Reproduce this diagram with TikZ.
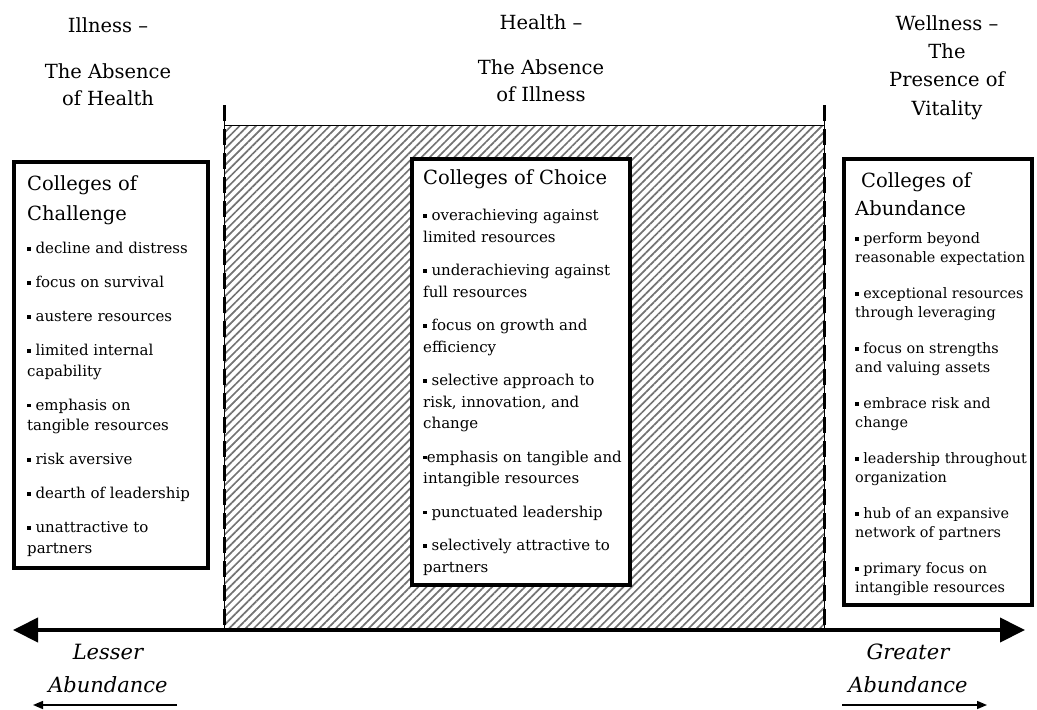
\documentclass[tikz,border=0pt]{standalone}
\usepackage{fontspec}
\setmainfont{DejaVu Serif}
\usepackage{tikz}
\usetikzlibrary{positioning}
\usetikzlibrary{arrows.meta,patterns.meta}
\tikzstyle{college} = [rectangle, draw, line width=3.5pt, fill=white, inner sep=0pt, anchor=north west]
\tikzstyle{heading} = [align=center, inner sep=0pt, font=\fontsize{19.5}{27}\selectfont]
\tikzstyle{ctitle} = [align=left, inner sep=0pt, anchor=north west, font=\fontsize{19.5}{30}\selectfont]
\tikzstyle{clist} = [align=left, inner sep=0pt, anchor=north west]
\tikzstyle{endlabel} = [align=center, inner sep=0pt, font=\fontsize{21}{33}\selectfont\itshape]
\tikzstyle{divider} = [line width=0.8pt]
\tikzstyle{dashes} = [line width=3pt, dash pattern=on 16pt off 8pt]
\tikzstyle{scale arrow} = [line width=4pt, {Triangle[length=25pt,width=24pt]}-{Triangle[length=25pt,width=24pt]}]
\tikzstyle{small arrow} = [line width=1.5pt, -{Triangle[length=10pt,width=8pt]}]
\newcommand{\bul}{\rule[0.2em]{3.6pt}{3.6pt}}

\begin{document}
\begin{tikzpicture}[x=1pt,y=-1pt]
\useasboundingbox (0,0) rectangle (1037,710);

%% hatched band
\fill [pattern={Lines[angle=45,distance=5.8pt,line width=1.7pt]}, pattern color=black!55] (224,125) rectangle (824,630);
\draw [divider] (224,125) -- (824,125);

\coordinate (topL) at (224,105);
\coordinate (botL) at (224,630);
\coordinate (topR) at (824,105);
\coordinate (botR) at (824,630);
\draw [divider] (topL) -- (botL);
\draw [divider] (topR) -- (botR);
\draw [dashes] (topL) -- (botL);
\draw [dashes] (topR) -- (botR);

%% scale
\coordinate (axL) at (13,630);
\coordinate (axR) at (1025,630);
\draw [scale arrow] (axL) -- (axR);

%% headings
\node [heading] at (108,25) (illness) {Illness –};
\node [heading] at (108,84.5) (illdef) {The Absence\\of Health};
\node [heading] at (541,22) (health) {Health –};
\node [heading] at (541,81) (healthdef) {The Absence\\of Illness};
\node [heading, font=\fontsize{19.5}{28.3}\selectfont] at (947,67.5) (wellness) {Wellness –\\The\\Presence of\\Vitality};

%% boxes
\node [college, minimum width=194pt, minimum height=406pt] at (12,160) (challenge) {};
\node [college, minimum width=218pt, minimum height=426pt] at (410,157) (choice) {};
\node [college, minimum width=188pt, minimum height=446pt] at (842,157) (abundance) {};

\node [ctitle] at (27,175) (chaltitle) {Colleges of\\Challenge};
\node [clist, font=\fontsize{15}{20.5}\selectfont] at (27,242) (challist) {%
\bul{} decline and distress\\[13.5pt]
\bul{} focus on survival\\[13.5pt]
\bul{} austere resources\\[13.5pt]
\bul{} limited internal\\capability\\[13.5pt]
\bul{} emphasis on\\tangible resources\\[13.5pt]
\bul{} risk aversive\\[13.5pt]
\bul{} dearth of leadership\\[13.5pt]
\bul{} unattractive to\\partners};

\node [ctitle] at (423,169) (choicetitle) {Colleges of Choice};
\node [clist, font=\fontsize{15}{21.5}\selectfont] at (423,209) (choicelist) {%
\bul{} overachieving against\\limited resources\\[12pt]
\bul{} underachieving against\\full resources\\[12pt]
\bul{} focus on growth and\\efficiency\\[12pt]
\bul{} selective approach to\\risk, innovation, and\\change\\[12pt]
\bul{}emphasis on tangible and\\intangible resources\\[12pt]
\bul{} punctuated leadership\\[12pt]
\bul{} selectively attractive to\\partners};

\node [ctitle, font=\fontsize{19.5}{28}\selectfont] at (855,172) (abuntitle) {\hspace{6pt}Colleges of\\Abundance};
\node [clist, font=\fontsize{14.4}{19}\selectfont] at (855,232.5) (abunlist) {%
\bul{} perform beyond\\reasonable expectation\\[17pt]
\bul{} exceptional resources\\through leveraging\\[17pt]
\bul{} focus on strengths\\and valuing assets\\[17pt]
\bul{} embrace risk and\\change\\[17pt]
\bul{} leadership throughout\\organization\\[17pt]
\bul{} hub of an expansive\\network of partners\\[17pt]
\bul{} primary focus on\\intangible resources};

%% scale ends
\node [endlabel] at (108,668.5) (lesser) {Lesser\\Abundance};
\node [endlabel] at (908,668.5) (greater) {Greater\\Abundance};
\coordinate (lessA) at (177,705);
\coordinate (lessB) at (33,705);
\coordinate (moreA) at (842,705);
\coordinate (moreB) at (987,705);
\draw [small arrow] (lessA) -- (lessB);
\draw [small arrow] (moreA) -- (moreB);

\end{tikzpicture}
\end{document}
